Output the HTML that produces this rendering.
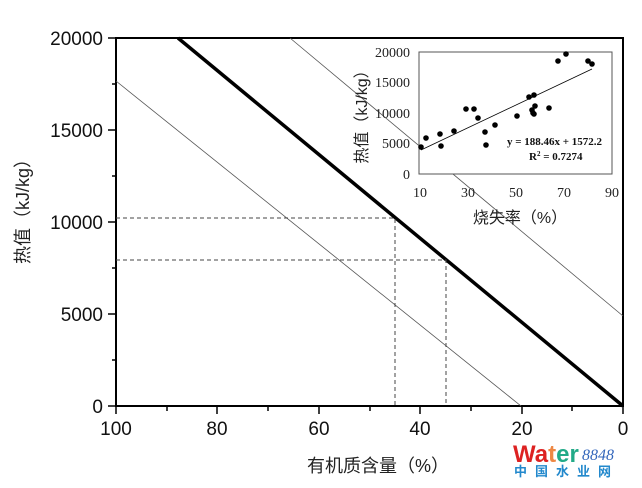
<!DOCTYPE html>
<html><head><meta charset="utf-8"><style>
html,body{margin:0;padding:0;background:#fff;}
svg{display:block;}
</style></head><body>
<svg width="642" height="488" viewBox="0 0 642 488" xmlns="http://www.w3.org/2000/svg" font-family="Liberation Sans, Noto Sans CJK SC, sans-serif">
<rect width="642" height="488" fill="#fff"/>
<rect x="116" y="38" width="507" height="368" fill="none" stroke="#000" stroke-width="2"/>
<g stroke="#000" stroke-width="1.5">
<line x1="108" y1="38" x2="116" y2="38"/>
<line x1="112" y1="84" x2="116" y2="84"/>
<line x1="108" y1="130" x2="116" y2="130"/>
<line x1="112" y1="176" x2="116" y2="176"/>
<line x1="108" y1="222" x2="116" y2="222"/>
<line x1="112" y1="268" x2="116" y2="268"/>
<line x1="108" y1="314" x2="116" y2="314"/>
<line x1="112" y1="360" x2="116" y2="360"/>
<line x1="108" y1="406" x2="116" y2="406"/>
<line x1="116" y1="406" x2="116" y2="414"/>
<line x1="167" y1="406" x2="167" y2="411"/>
<line x1="217" y1="406" x2="217" y2="414"/>
<line x1="268" y1="406" x2="268" y2="411"/>
<line x1="319" y1="406" x2="319" y2="414"/>
<line x1="370" y1="406" x2="370" y2="411"/>
<line x1="420" y1="406" x2="420" y2="414"/>
<line x1="471" y1="406" x2="471" y2="411"/>
<line x1="522" y1="406" x2="522" y2="414"/>
<line x1="572" y1="406" x2="572" y2="411"/>
<line x1="623" y1="406" x2="623" y2="414"/>
</g>
<g font-size="19" fill="#111" text-anchor="end">
<text x="103" y="45">20000</text>
<text x="103" y="137">15000</text>
<text x="103" y="229">10000</text>
<text x="103" y="321">5000</text>
<text x="103" y="413">0</text>
</g>
<g font-size="19" fill="#111" text-anchor="middle">
<text x="116" y="435">100</text>
<text x="217" y="435">80</text>
<text x="319" y="435">60</text>
<text x="420" y="435">40</text>
<text x="522" y="435">20</text>
<text x="623" y="435">0</text>
</g>
<text x="378" y="472" font-size="18" text-anchor="middle" fill="#222">有机质含量（%）</text>
<text transform="translate(29,207) rotate(-90)" font-size="18" text-anchor="middle" fill="#222">热值（kJ/kg）</text>
<line x1="178" y1="38" x2="623" y2="406" stroke="#000" stroke-width="3.5"/>
<line x1="116" y1="81" x2="521" y2="406" stroke="#555" stroke-width="0.8"/>
<line x1="290" y1="38" x2="623" y2="316" stroke="#555" stroke-width="0.8"/>
<g stroke="#444" stroke-width="1" stroke-dasharray="4,3" fill="none">
<polyline points="116,218 395,218 395,406"/>
<polyline points="116,260 446,260 446,406"/>
</g>
<!-- inset -->
<rect x="419" y="52" width="193" height="122" fill="#fff" stroke="#555" stroke-width="1"/>
<g font-family="Liberation Serif, serif" font-size="14" fill="#222" text-anchor="end">
<text x="410" y="57">20000</text>
<text x="410" y="87">15000</text>
<text x="410" y="118">10000</text>
<text x="410" y="148">5000</text>
<text x="410" y="179">0</text>
</g>
<g font-family="Liberation Serif, serif" font-size="14" fill="#222" text-anchor="middle">
<text x="420" y="197">10</text>
<text x="468" y="197">30</text>
<text x="516" y="197">50</text>
<text x="564" y="197">70</text>
<text x="612" y="197">90</text>
</g>
<text x="520" y="223" font-size="16" text-anchor="middle" fill="#222">烧失率（%）</text>
<text transform="translate(367,113) rotate(-90)" font-size="16" text-anchor="middle" fill="#222">热值（kJ/kg）</text>
<line x1="421" y1="150" x2="592" y2="69" stroke="#000" stroke-width="0.8"/>
<g fill="#000">
<circle cx="421" cy="147" r="2.8"/><circle cx="426" cy="138" r="2.8"/><circle cx="440" cy="134" r="2.8"/>
<circle cx="441" cy="146" r="2.8"/><circle cx="454" cy="131" r="2.8"/><circle cx="466" cy="109" r="2.8"/>
<circle cx="474" cy="109" r="2.8"/><circle cx="478" cy="118" r="2.8"/><circle cx="485" cy="132" r="2.8"/>
<circle cx="486" cy="145" r="2.8"/><circle cx="495" cy="125" r="2.8"/><circle cx="517" cy="116" r="2.8"/>
<circle cx="529" cy="97" r="2.8"/><circle cx="534" cy="95" r="2.8"/><circle cx="532" cy="110" r="2.8"/>
<circle cx="533" cy="113" r="2.8"/><circle cx="534" cy="114" r="2.8"/><circle cx="535" cy="106" r="2.8"/>
<circle cx="549" cy="108" r="2.8"/><circle cx="558" cy="61" r="2.8"/><circle cx="566" cy="54" r="2.8"/>
<circle cx="588" cy="61" r="2.8"/><circle cx="592" cy="64" r="2.8"/>
</g>
<g font-family="Liberation Serif, serif" font-size="11" font-weight="bold" fill="#111">
<text x="507" y="145">y = 188.46x + 1572.2</text>
<text x="529" y="160">R<tspan font-size="7" dy="-4">2</tspan><tspan dy="4"> = 0.7274</tspan></text>
</g>
<text x="513" y="462" font-size="24" font-weight="bold" fill="#d22">Wa<tspan fill="#e84">t</tspan><tspan fill="#2a8">er</tspan></text>
<text x="582" y="460" font-size="16" font-style="italic" font-family="Liberation Serif, serif" fill="#36b">8848</text>
<text x="514" y="476" font-size="13" font-weight="bold" fill="#28c" letter-spacing="8">中国水业网</text>
</svg>
</body></html>
